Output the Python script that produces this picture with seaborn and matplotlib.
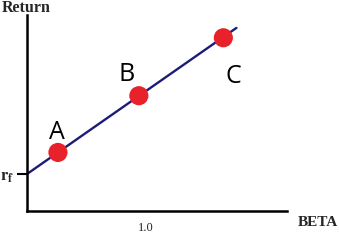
import matplotlib
matplotlib.use("Agg")
import matplotlib.pyplot as plt
import seaborn as sns
import pandas as pd

# --- data ---
sml_beta = [0.0, 1.76]          # security market line endpoints (beta)
sml_return = [3.0, 14.85]       # corresponding returns
point_labels = ["A", "B", "C"]
point_beta = [0.26, 0.94, 1.65]
point_return = [4.75, 9.35, 14.05]
rf_value = 3.0
xtick_values = [1.0]
xtick_labels = ["1.0"]

sns.set_theme(style="white")
plt.rcParams["mathtext.fontset"] = "stix"

fig = plt.figure(figsize=(3.39, 2.40), dpi=100)
ax = fig.add_axes([27/339, 29/240, 260/339, 196/240])

line_df = pd.DataFrame({"beta": sml_beta, "ret": sml_return})
pts_df = pd.DataFrame({"beta": point_beta, "ret": point_return, "label": point_labels})

sns.lineplot(data=line_df, x="beta", y="ret", ax=ax, color="#1c1c78", linewidth=1.7)
sns.scatterplot(data=pts_df, x="beta", y="ret", ax=ax, color="#e8222a", s=190,
                edgecolor="none", zorder=3)

ax.set_xlim(0, 260/119)
ax.set_ylim(0, 196/12.33)

for s in ["top", "right"]:
    ax.spines[s].set_visible(False)
for s in ["left", "bottom"]:
    ax.spines[s].set_color("black")
    ax.spines[s].set_linewidth(1.8)

ax.set_xticks(xtick_values)
ax.set_xticklabels(xtick_labels, fontfamily="Liberation Serif", fontsize=9)
ax.tick_params(axis="x", length=0, pad=8)
ax.set_yticks([rf_value])
ax.set_yticklabels([r"$\mathbf{r_f}$"], fontsize=12)
ax.tick_params(axis="y", length=7, width=1.5, color="black", pad=2, left=True)
ax.set_xlabel("")
ax.set_ylabel("")

# point labels
offsets = {"A": (-1, 20), "B": (-12, 21), "C": (10, -39)}
for lab, b, r in zip(point_labels, point_beta, point_return):
    dx, dy = offsets[lab]
    ax.annotate(lab, (b, r), xytext=(dx / 1.389, dy / 1.389), textcoords="offset points",
                ha="center", va="center", fontsize=18, fontfamily="Open Sans", color="black")

fig.text(2/339, 1 - 8/240, "Return", fontfamily="Liberation Serif", fontweight="bold",
         fontsize=11.5, ha="left", va="center")
fig.text(298/339, 1 - 222/240, "BETA", fontfamily="Liberation Serif", fontweight="bold",
         fontsize=11, ha="left", va="center")

fig.savefig("out.png", dpi=100, facecolor="white")
